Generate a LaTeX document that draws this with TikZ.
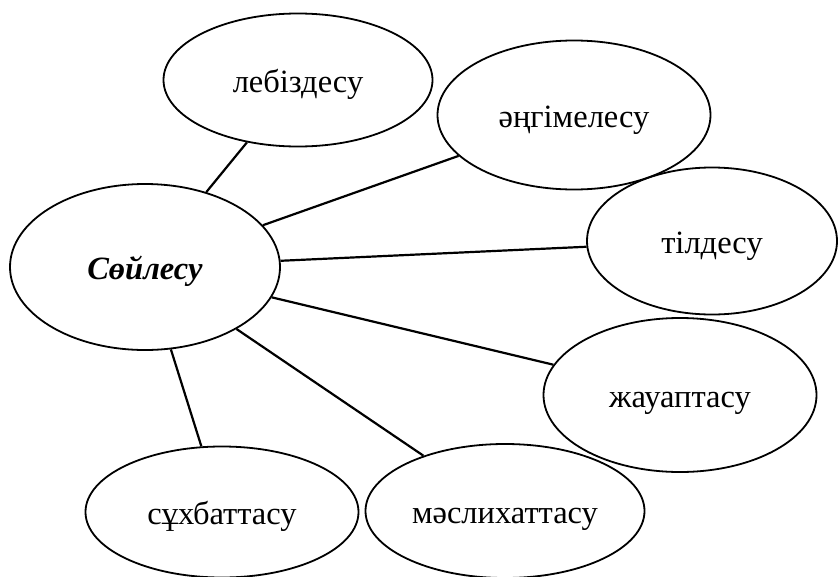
\documentclass[tikz,border=0pt]{standalone}
\usepackage{fontspec}
\setmainfont{Liberation Serif}
\usetikzlibrary{shapes.geometric}
\begin{document}
\begin{tikzpicture}[x=1pt,y=-1pt,
  bubble/.style={ellipse,draw=black,line width=1.8pt,inner sep=0pt,
    text height=24pt,text depth=0pt,
    font=\fontsize{32.5}{38}\selectfont},
  link/.style={draw=black,line width=2.2pt}]
\useasboundingbox (0,0) rectangle (838,576);
\node[bubble,minimum width=270,minimum height=166] (c) at (145,267) {\textbf{\textit{Сөйлесу}}};
\node[bubble,minimum width=269,minimum height=133] (a) at (298,80) {лебіздесу};
\node[bubble,minimum width=273,minimum height=149] (b) at (574,115) {әңгімелесу};
\node[bubble,minimum width=250,minimum height=147] (t) at (712,241) {тілдесу};
\node[bubble,minimum width=273,minimum height=154] (j) at (680,395) {жауаптасу};
\node[bubble,minimum width=273,minimum height=131] (s) at (222,512) {сұхбаттасу};
\node[bubble,minimum width=279,minimum height=134] (m) at (505,511) {мәслихаттасу};
\draw[link] (c) -- (a);
\draw[link] (c) -- (b);
\draw[link] (c) -- (t);
\draw[link] (c) -- (j);
\draw[link] (c) -- (m);
\draw[link] (c) -- (s);
\end{tikzpicture}
\end{document}
